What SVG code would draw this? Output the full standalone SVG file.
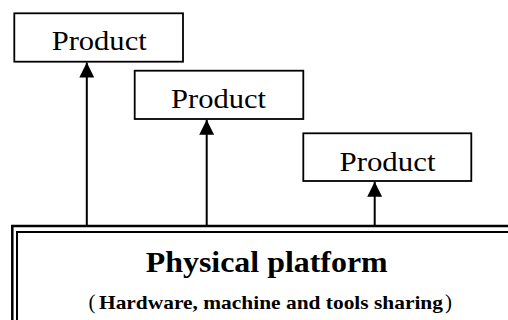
<svg xmlns="http://www.w3.org/2000/svg" width="508" height="320" viewBox="0 0 508 320">
<style>
.box{fill:#fff;stroke:#000;stroke-width:1.8}
.lbl{font-family:"Liberation Serif","Times New Roman",serif;font-size:27px;fill:#000}
.conn{stroke:#000;stroke-width:2;fill:none}
.plat{fill:none;stroke:#000}
.pt{font-family:"Liberation Serif","Times New Roman",serif;font-weight:bold;fill:#000}
</style>
<defs>
<marker id="ah" viewBox="0 0 15 15" refX="15" refY="7.5" markerWidth="15" markerHeight="15" markerUnits="userSpaceOnUse" orient="auto">
<path d="M0,0 L15,7.5 L0,15 Z" fill="#000"/>
</marker>
</defs>
<rect width="508" height="320" fill="#fff"/>
<g id="platform">
<rect class="plat" x="12.3" y="226" width="520" height="120" stroke-width="2.5"/>
<rect class="plat" x="17" y="232" width="520" height="120" stroke-width="2"/>
<text class="pt" x="145.7" y="272" font-size="29" textLength="242" lengthAdjust="spacingAndGlyphs">Physical platform</text>
<text class="pt" y="309" font-size="19"><tspan x="88.5" font-weight="normal" font-size="21" y="308.5">(</tspan><tspan x="99" y="309" textLength="344" lengthAdjust="spacingAndGlyphs">Hardware, machine and tools sharing</tspan><tspan x="445" font-weight="normal" font-size="21" y="308.5">)</tspan></text>
</g>
<g id="product1">
<rect class="box" x="14.3" y="13.3" width="168.7" height="48.4"/>
<text class="lbl" x="51.7" y="50" textLength="95" lengthAdjust="spacingAndGlyphs">Product</text>
</g>
<g id="product2">
<rect class="box" x="134.7" y="70.7" width="168.6" height="48.3"/>
<text class="lbl" x="171" y="107.7" textLength="95" lengthAdjust="spacingAndGlyphs">Product</text>
</g>
<g id="product3">
<rect class="box" x="303.3" y="133.3" width="168" height="47.7"/>
<text class="lbl" x="339.5" y="170.7" textLength="96" lengthAdjust="spacingAndGlyphs">Product</text>
</g>
<g id="connectors">
<line class="conn" x1="86.8" y1="225" x2="86.8" y2="62.5" marker-end="url(#ah)"/>
<line class="conn" x1="206.7" y1="225" x2="206.7" y2="119.8" marker-end="url(#ah)"/>
<line class="conn" x1="374.7" y1="225" x2="374.7" y2="181.8" marker-end="url(#ah)"/>
</g>
</svg>
